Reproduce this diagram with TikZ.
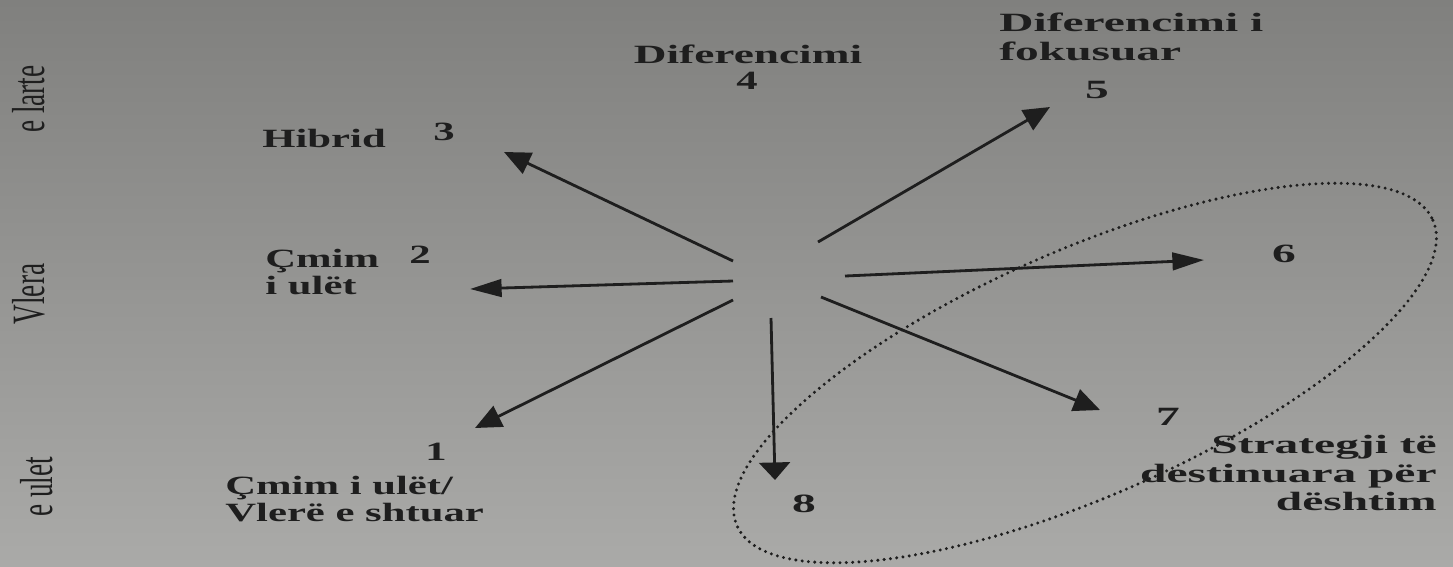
\documentclass[tikz,border=0pt]{standalone}
\usepackage{fontspec}
\usepackage{graphicx}
\setmainfont{Liberation Serif}
\newfontfamily\lblL[FakeStretch=1.62]{Liberation Serif}
\newfontfamily\lblM[FakeStretch=1.72]{Liberation Serif}
\newfontfamily\lblR[FakeStretch=1.8]{Liberation Serif}
\usetikzlibrary{arrows.meta}
\definecolor{ink}{RGB}{30,30,30}
\definecolor{papertop}{RGB}{128,128,126}
\definecolor{paperbot}{RGB}{170,170,168}
\begin{document}
\begin{tikzpicture}[x=0.02cm,y=-0.02cm,line join=round,
	lbl/.style={text=ink,inner sep=0pt,font=\lblL\bfseries\fontsize{15}{15.5}\selectfont},
	lblr/.style={text=ink,inner sep=0pt,font=\lblR\bfseries\fontsize{15}{16.3}\selectfont},
	side/.style={rotate=90,text=ink,inner sep=0pt,font=\fontsize{15.5}{16}\selectfont},
	arr/.style={draw=ink,line width=1.6pt},
	tipd/.style={-{Triangle[length=15pt,width=13pt]}},
	tiph/.style={-{Triangle[length=18pt,width=10pt]}},
	tipv/.style={-{Triangle[length=10pt,width=17.6pt]}},
	ring/.style={draw=ink,line width=1.9pt,line cap=round,dash pattern=on 0pt off 3.6pt}]
	\shade[top color=papertop,bottom color=paperbot] (0,0) rectangle (1453,566);
	\useasboundingbox (0,0) rectangle (1453,566);
	% value axis
	\node[side] (hi) at (29,99) {\scalebox{1}[1.7]{e larte}};
	\node[side] (vl) at (29,294) {\scalebox{1}[1.7]{Vlera}};
	\node[side] (lo) at (37,487) {\scalebox{1}[1.7]{e ulet}};
	% strategies
	\node[lbl,font=\lblM\bfseries\fontsize{15}{15.5}\selectfont,anchor=base] (d4) at (748,63) {Diferencimi};
	\node[lbl,anchor=base] (n4) at (747,89) {4};
	\node[lblr,anchor=north west,align=left] (d5) at (999,13) {Diferencimi i\\fokusuar};
	\node[lblr,anchor=base] (n5) at (1097,98) {5};
	\node[lbl,anchor=base west] (hb) at (262,147) {Hibrid};
	\node[lbl,anchor=base] (n3) at (444,140) {3};
	\node[lbl,anchor=north west,align=left] (cm) at (265,249) {Çmim\\i ulët};
	\node[lbl,anchor=base] (n2) at (420,263) {2};
	\node[lbl,anchor=base] (n1) at (436,460) {1};
	\node[lbl,anchor=north west,align=left] (cv) at (225,476) {Çmim i ulët/\\Vlerë e shtuar};
	\node[lblr,anchor=base] (n6) at (1284,262) {6};
	\node[lblr,anchor=base] (n7) at (1168,425) {7};
	\node[lblr,anchor=base] (n8) at (804,512) {8};
	\node[lblr,anchor=north east,align=right] (sd) at (1437,435) {Strategji të\\destinuara për\\dështim};
	% arrow ends
	\foreach \n/\p in {s1/{733,300},e1/{475,428},s2/{733,281},e2/{470,289},s3/{733,261},e3/{504,152},
		s5/{818,242},e5/{1050,107},s6/{845,276},e6/{1204,260},s7/{821,297},e7/{1100,410},s8/{771,318},e8/{775,480}}
		\coordinate (\n) at (\p);
	\foreach \i/\t in {1/tipd,2/tiph,3/tipd,5/tipd,6/tiph,7/tipd,8/tipv}
		\draw[arr,\t] (s\i)--(e\i);
	% failure group
	\coordinate (fc) at (1085,373);
	\draw[ring,rotate around={23.7:(fc)}] (fc) ellipse [x radius=380,y radius=123];
\end{tikzpicture}
\end{document}
